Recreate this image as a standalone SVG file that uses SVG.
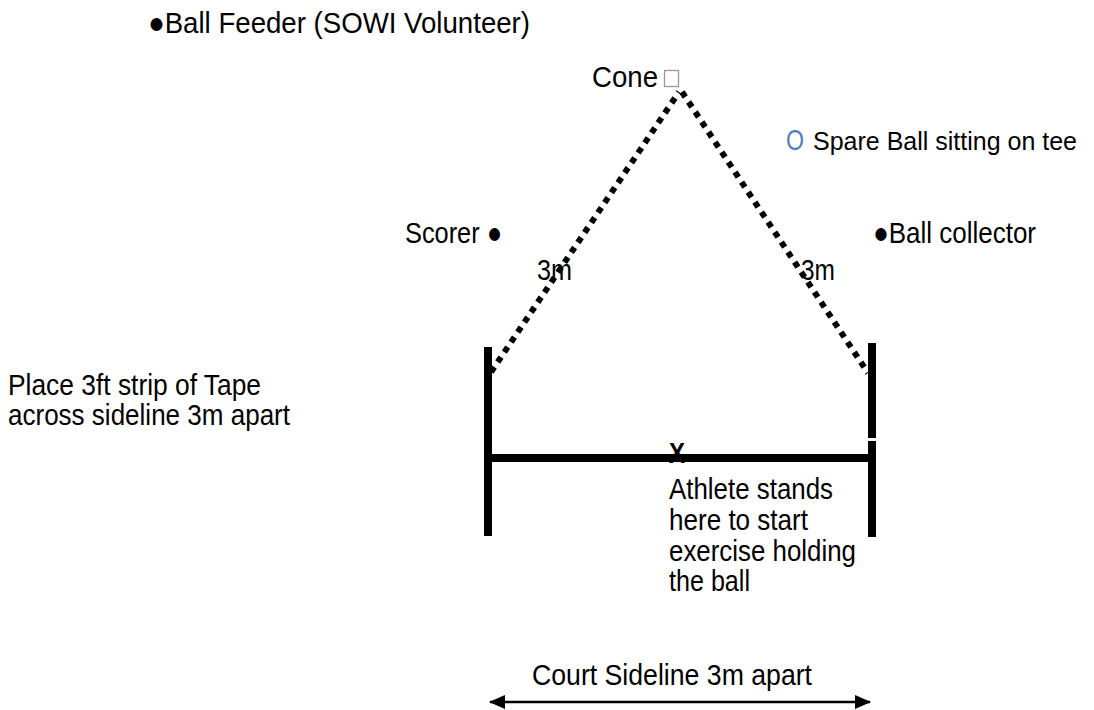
<svg xmlns="http://www.w3.org/2000/svg" width="1094" height="710" viewBox="0 0 1094 710">
<defs>
<style>
text{font-family:"Liberation Sans",Arial,sans-serif;font-size:30px;fill:#000}
.bar{stroke:#000;stroke-width:8;fill:none}
.dot{stroke:#000;stroke-width:6;stroke-dasharray:6 6;fill:none}
.arr{stroke:#000;stroke-width:2.5;fill:none}
</style>
<marker id="ah" viewBox="0 0 16 14" refX="15" refY="7" markerWidth="16" markerHeight="14" markerUnits="userSpaceOnUse" orient="auto-start-reverse">
<path d="M0,0 L16,7 L0,14 z" fill="#000"/>
</marker>
</defs>
<rect width="1094" height="710" fill="#fff"/>
<g id="connectors">
<line class="dot" x1="491" y1="372" x2="679" y2="92"/>
<line class="dot" x1="682" y1="92" x2="868" y2="373"/>
<line class="bar" x1="488" y1="347" x2="488" y2="536"/>
<line class="bar" x1="872" y1="343" x2="872" y2="438"/>
<line class="bar" x1="872" y1="441" x2="872" y2="537"/>
<line class="bar" x1="488" y1="458" x2="872" y2="458" stroke-width="7"/>
<line class="arr" x1="490" y1="702" x2="870" y2="702" marker-start="url(#ah)" marker-end="url(#ah)"/>
</g>
<g id="ball-feeder"><text x="148" y="33" textLength="382" lengthAdjust="spacingAndGlyphs">●Ball Feeder (SOWI Volunteer)</text></g>
<g id="cone">
<text x="592" y="87" textLength="66" lengthAdjust="spacingAndGlyphs">Cone</text>
<rect x="664.5" y="70.5" width="14" height="16" fill="none" stroke="#999" stroke-width="1.3"/>
</g>
<g id="spare-ball">
<text x="786" y="150" style="fill:#4f81bd" textLength="18" lengthAdjust="spacingAndGlyphs">O</text>
<text x="813" y="150" style="font-size:26px" textLength="264" lengthAdjust="spacingAndGlyphs">Spare Ball sitting on tee</text>
</g>
<g id="scorer"><text x="405" y="243" textLength="97" lengthAdjust="spacingAndGlyphs">Scorer ●</text></g>
<g id="ball-collector"><text x="873" y="243" textLength="163" lengthAdjust="spacingAndGlyphs">●Ball collector</text></g>
<g id="dist-left"><text x="537" y="280" textLength="35" lengthAdjust="spacingAndGlyphs">3m</text></g>
<g id="dist-right"><text x="801" y="280" textLength="34" lengthAdjust="spacingAndGlyphs">3m</text></g>
<g id="tape-note">
<text x="8" y="395" textLength="253" lengthAdjust="spacingAndGlyphs">Place 3ft strip of Tape</text>
<text x="8" y="425" textLength="282" lengthAdjust="spacingAndGlyphs">across sideline 3m apart</text>
</g>
<g id="athlete-mark"><text x="669" y="463" style="font-weight:bold;font-size:30px" textLength="16" lengthAdjust="spacingAndGlyphs">X</text></g>
<g id="athlete-note">
<text x="669" y="499" textLength="164" lengthAdjust="spacingAndGlyphs">Athlete stands</text>
<text x="669" y="530" textLength="139" lengthAdjust="spacingAndGlyphs">here to start</text>
<text x="669" y="561" textLength="187" lengthAdjust="spacingAndGlyphs">exercise holding</text>
<text x="669" y="591" textLength="81" lengthAdjust="spacingAndGlyphs">the ball</text>
</g>
<g id="sideline-label"><text x="532" y="685" textLength="280" lengthAdjust="spacingAndGlyphs">Court Sideline 3m apart</text></g>
</svg>
